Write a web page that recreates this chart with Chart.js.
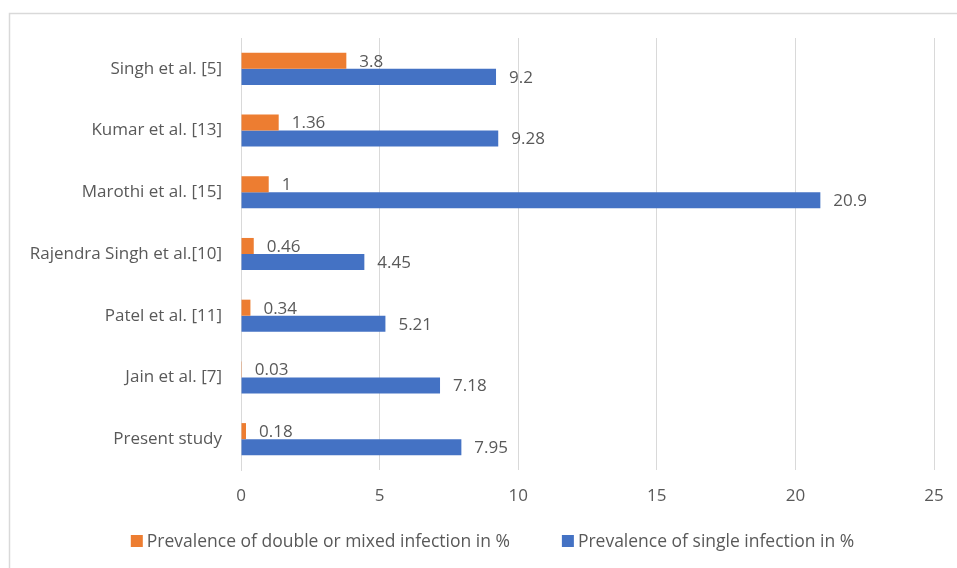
<!DOCTYPE html>
<html>
<head>
<meta charset="utf-8">
<script src="https://cdn.jsdelivr.net/npm/chart.js@4/dist/chart.umd.min.js"></script>
<style>
html,body{margin:0;padding:0;background:#fff;}
#wrap{width:957px;height:568px;}
</style>
</head>
<body>
<div id="wrap"><canvas id="c" width="957" height="568"></canvas></div>
<script>
const categories = ["Singh et al. [5]", "Kumar et al. [13]", "Marothi et al. [15]", "Rajendra Singh et al.[10]", "Patel et al. [11]", "Jain et al. [7]", "Present study"];
const doubleInfection = [3.8, 1.36, 1, 0.46, 0.34, 0.03, 0.18];
const singleInfection = [9.2, 9.28, 20.9, 4.45, 5.21, 7.18, 7.95];
const doubleLabels = ["3.8", "1.36", "1", "0.46", "0.34", "0.03", "0.18"];
const singleLabels = ["9.2", "9.28", "20.9", "4.45", "5.21", "7.18", "7.95"];
const xTicks = [0, 5, 10, 15, 20, 25];
const seriesNames = ["Prevalence of double or mixed infection in %", "Prevalence of single infection in %"];
const seriesColors = ['#ED7D31', '#4472C4'];

const FONT = "'Open Sans', sans-serif";
const FS = 17;
const TXT = "#595959";

const borderPlugin = {
  id: 'frame',
  beforeDraw(chart) {
    const ctx = chart.ctx;
    ctx.save();
    ctx.fillStyle = '#fff';
    ctx.fillRect(0, 0, chart.width, chart.height);
    ctx.strokeStyle = '#d9d9d9';
    ctx.lineWidth = 1.5;
    ctx.strokeRect(9.5, 13.5, chart.width + 20, chart.height + 20);
    ctx.restore();
  }
};

const labelPlugin = {
  id: 'valueLabels',
  afterDatasetsDraw(chart) {
    const ctx = chart.ctx;
    const lbls = [doubleLabels, singleLabels];
    ctx.save();
    ctx.font = FS + "px " + FONT;
    ctx.fillStyle = TXT;
    ctx.textAlign = 'left';
    ctx.textBaseline = 'middle';
    chart.data.datasets.forEach((ds, di) => {
      const meta = chart.getDatasetMeta(di);
      meta.data.forEach((bar, i) => {
        ctx.fillText(lbls[di][i], bar.x + 13, bar.y + 1);
      });
    });
    ctx.restore();
  }
};

const legendPlugin = {
  id: 'customLegend',
  afterDraw(chart) {
    const ctx = chart.ctx;
    ctx.save();
    ctx.font = "17.5px " + FONT;
    const box = 12, gapText = 4, gapItem = 52;
    const w = chart.data.datasets.map(d => ctx.measureText(d.label).width);
    const total = w.reduce((a, b) => a + b, 0) + 2 * (box + gapText) + gapItem;
    let x = 492.5 - total / 2;
    const yc = 541;
    ctx.textBaseline = 'middle';
    ctx.textAlign = 'left';
    chart.data.datasets.forEach((d, i) => {
      ctx.fillStyle = d.backgroundColor;
      ctx.fillRect(x, yc - box / 2, box, box);
      x += box + gapText;
      ctx.fillStyle = TXT;
      ctx.fillText(d.label, x, yc + 1);
      x += w[i] + gapItem;
    });
    ctx.restore();
  }
};

new Chart(document.getElementById('c'), {
  type: 'bar',
  data: {
    labels: categories,
    datasets: [
      { label: seriesNames[0], data: doubleInfection, backgroundColor: seriesColors[0], categoryPercentage: 0.52, barPercentage: 1.0 },
      { label: seriesNames[1], data: singleInfection, backgroundColor: seriesColors[1], categoryPercentage: 0.52, barPercentage: 1.0 }
    ]
  },
  options: {
    indexAxis: 'y',
    responsive: false,
    animation: false,
    layout: { padding: { left: 0, right: 23, top: 38, bottom: 54 } },
    plugins: {
      legend: { display: false },
      tooltip: { enabled: false }
    },
    scales: {
      x: {
        min: 0, max: 25,
        afterBuildTicks(scale) { scale.ticks = xTicks.map(v => ({ value: v })); },
        afterFit(scale) { scale.height = 44; scale.paddingRight = 0; scale.paddingLeft = 0; },
        grid: { color: '#d9d9d9', drawTicks: false, lineWidth: 1 },
        border: { display: false },
        ticks: { color: TXT, font: { family: FONT, size: FS }, padding: 16 }
      },
      y: {
        afterFit(scale) { scale.width = 241; },
        grid: { display: false, drawTicks: false },
        border: { display: true, color: '#d9d9d9' },
        ticks: { color: TXT, font: { family: FONT, size: FS }, padding: 19 }
      }
    }
  },
  plugins: [borderPlugin, labelPlugin, legendPlugin]
});
</script>
</body>
</html>
